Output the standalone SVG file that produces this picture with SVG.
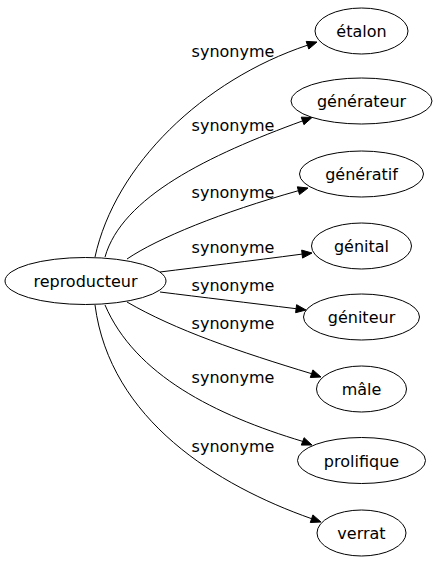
<svg xmlns="http://www.w3.org/2000/svg" width="438" height="563" viewBox="0 0 438 563">
<style>
.n ellipse{fill:#fff;stroke:#000;stroke-width:1}
.n text{font-family:"DejaVu Sans",sans-serif;font-size:16px;text-anchor:middle;fill:#000}
.e path{fill:none;stroke:#000;stroke-width:1}
.e polygon{fill:#000;stroke:#000;stroke-width:1}
.lbl{font-family:"DejaVu Sans",sans-serif;font-size:16px;text-anchor:middle;fill:#000}
</style>
<rect width="438" height="563" fill="#fff"/>
<g id="edges" class="e">
<path d="M95,257 C115,165 203,80 307.5,45.2"/>
<polygon points="317,42 308.8,49 306.2,41.4"/>
<path d="M105,257 C122,197 208.5,155.2 302.6,120.9"/>
<polygon points="312,117.5 303.95,124.66 301.25,117.14"/>
<path d="M127,259 C158,238 221.4,212.3 298.4,190.7"/>
<polygon points="308,188 299.5,194.55 297.3,186.85"/>
<path d="M160,272 C200,267 250,261 302.1,254.1"/>
<polygon points="312,253 302.55,258.1 301.65,250.1"/>
<path d="M160,292 C200,297 250,303 296.1,308.7"/>
<polygon points="306,310 295.6,312.7 296.6,304.7"/>
<path d="M127,302 C175,330 240,352 311.6,373.7"/>
<polygon points="321,377 310.3,377.5 312.9,369.9"/>
<path d="M105,305 C135,375 215,415 302.7,441.4"/>
<polygon points="312,445 301.3,445.1 304.1,437.7"/>
<path d="M95,305 C110,420 217.3,485.4 311.6,518.7"/>
<polygon points="321,522 310.3,522.5 312.9,514.9"/>
<text class="lbl" x="233" y="57">synonyme</text>
<text class="lbl" x="233" y="131">synonyme</text>
<text class="lbl" x="233" y="198">synonyme</text>
<text class="lbl" x="233" y="253">synonyme</text>
<text class="lbl" x="233" y="291">synonyme</text>
<text class="lbl" x="233" y="329">synonyme</text>
<text class="lbl" x="233" y="383">synonyme</text>
<text class="lbl" x="233" y="452">synonyme</text>
</g>
<g id="reproducteur" class="n"><ellipse cx="85.5" cy="281" rx="80.5" ry="23.5"/><text x="85.5" y="287">reproducteur</text></g>
<g id="etalon" class="n"><ellipse cx="361.5" cy="31" rx="46.5" ry="23"/><text x="361.5" y="37">étalon</text></g>
<g id="generateur" class="n"><ellipse cx="361.5" cy="101" rx="70.5" ry="23"/><text x="361.5" y="107">générateur</text></g>
<g id="generatif" class="n"><ellipse cx="361.5" cy="174" rx="62" ry="23"/><text x="361.5" y="180">génératif</text></g>
<g id="genital" class="n"><ellipse cx="361.5" cy="246" rx="50" ry="23"/><text x="361.5" y="252">génital</text></g>
<g id="geniteur" class="n"><ellipse cx="361.5" cy="317" rx="58" ry="23"/><text x="361.5" y="323">géniteur</text></g>
<g id="male" class="n"><ellipse cx="361.5" cy="389" rx="45" ry="23"/><text x="361.5" y="395">mâle</text></g>
<g id="prolifique" class="n"><ellipse cx="361.5" cy="460.5" rx="64" ry="23"/><text x="361.5" y="466.5">prolifique</text></g>
<g id="verrat" class="n"><ellipse cx="361.5" cy="533" rx="44.5" ry="23"/><text x="361.5" y="539">verrat</text></g>
</svg>
